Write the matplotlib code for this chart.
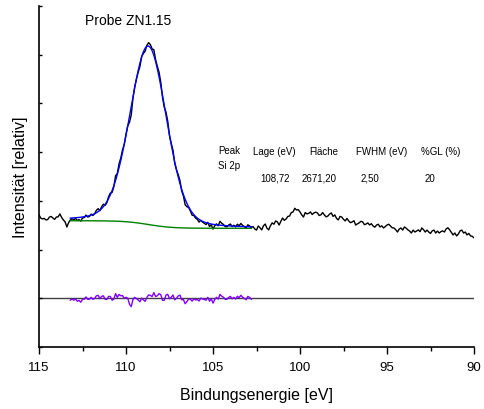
import numpy as np
import matplotlib
matplotlib.use("Agg")
import matplotlib.pyplot as plt
from matplotlib.ticker import MultipleLocator

plt.rcParams['font.family'] = ['Liberation Sans', 'DejaVu Sans']

# Measured Si 2p region: binding energy grid (eV) and counts, 0.1 eV steps
e_start, e_stop, e_step = 115.0, 90.0, 0.1
counts = [
    428, 412, 407, 410, 402, 404, 417, 420, 412, 405,
    417, 418, 433, 415, 402, 392, 366, 388, 402, 408,
    403, 410, 399, 404, 396, 412, 414, 427, 417, 420,
    432, 425, 434, 452, 460, 450, 470, 483, 477, 490,
    522, 540, 543, 572, 629, 640, 690, 720, 762, 790,
    842, 885, 903, 940, 1026, 1085, 1125, 1160, 1189, 1240,
    1257, 1268, 1298, 1312, 1302, 1280, 1276, 1225, 1191, 1160,
    1108, 1030, 980, 955, 908, 835, 795, 760, 692, 660,
    635, 605, 551, 525, 480, 470, 466, 448, 426, 425,
    411, 405, 391, 400, 391, 385, 378, 390, 368, 378,
    355, 372, 382, 372, 395, 385, 379, 368, 367, 376,
    381, 368, 375, 366, 380, 372, 384, 374, 368, 360,
    377, 372, 362, 368, 356, 350, 371, 362, 351, 372,
    381, 360, 351, 372, 387, 380, 397, 392, 376, 395,
    412, 400, 407, 420, 422, 440, 443, 462, 453, 455,
    443, 428, 417, 440, 433, 436, 443, 430, 438, 442,
    438, 425, 428, 440, 428, 418, 422, 432, 438, 420,
    428, 410, 402, 420, 417, 405, 397, 410, 397, 388,
    392, 398, 376, 382, 387, 395, 392, 378, 381, 387,
    376, 383, 371, 365, 376, 380, 366, 372, 361, 368,
    376, 380, 371, 362, 361, 352, 340, 355, 361, 350,
    366, 360, 351, 345, 335, 350, 340, 345, 351, 342,
    361, 352, 340, 350, 340, 333, 346, 350, 335, 345,
    335, 342, 346, 340, 356, 362, 351, 338, 325, 335,
    320, 330, 346, 350, 335, 340, 325, 333, 320, 318,
    310,
]

# Peak fit parameters
peak_name = "Si 2p"
peak_pos = 108.72      # eV
peak_area = 2671.20
peak_fwhm = 2.50       # eV
peak_gl = 20           # % Lorentzian

# Fit window and Shirley end levels
fit_hi, fit_lo = 113.2, 102.8
bg_high, bg_low = 398.0, 359.0

n_pts = int(round((e_start - e_stop) / e_step)) + 1
energy = np.linspace(e_start, e_stop, n_pts)
counts = np.asarray(counts, dtype=float)

# Gaussian-Lorentzian sum profile
m = peak_gl / 100.0
shape_area = peak_fwhm * ((1 - m) * np.sqrt(np.pi / (4 * np.log(2))) + m * np.pi / 2)
height = peak_area / shape_area


def gl(x):
    t = 4 * ((x - peak_pos) / peak_fwhm) ** 2
    return height * ((1 - m) * np.exp(-np.log(2) * t) + m / (1 + t))


mask = (energy <= fit_hi + 1e-9) & (energy >= fit_lo - 1e-9)
e_fit = energy[mask][::-1]          # ascending energy
d_fit = counts[mask][::-1]
p_fit = gl(e_fit)

# Shirley background: step proportional to integrated peak area
cum = np.concatenate([[0], np.cumsum(0.5 * (p_fit[1:] + p_fit[:-1]) * np.diff(e_fit))])
background = bg_low + (bg_high - bg_low) * cum / cum[-1]
envelope = background + p_fit
residual = d_fit - envelope

W, H = 484, 410
fig = plt.figure(figsize=(W / 100, H / 100), dpi=100)
ax = fig.add_axes([39 / W, 62 / H, 435 / W, 341 / H])

ax.axhline(0, color='#404040', lw=1.0, zorder=1)
ax.plot(energy, counts, color='black', lw=1.0, zorder=3)
ax.plot(e_fit, background, color='#008000', lw=1.0, zorder=4)
ax.plot(e_fit, envelope, color='#0000ff', lw=1.0, zorder=5)
ax.plot(e_fit, residual, color='#8000ff', lw=1.0, zorder=2)

ax.set_xlim(115, 90)
ax.set_ylim(-250, 1500)

for side in ('top', 'right'):
    ax.spines[side].set_visible(False)
for side in ('left', 'bottom'):
    ax.spines[side].set_linewidth(1.2)

ax.xaxis.set_major_locator(MultipleLocator(5))
ax.xaxis.set_minor_locator(MultipleLocator(2.5))
ax.yaxis.set_major_locator(MultipleLocator(250))
ax.tick_params(axis='x', which='major', direction='out', length=5, width=1, labelsize=9.5, pad=5)
ax.tick_params(axis='x', which='minor', direction='out', length=3, width=1)
ax.tick_params(axis='y', which='major', direction='in', length=2, width=1, labelleft=False)

ax.set_xlabel("Bindungsenergie [eV]", fontsize=11.5, labelpad=10)
ax.set_ylabel("Intensität [relativ]", fontsize=11.5, labelpad=8)


def ftext(x, y, s, size=7, **kw):
    fig.text(x / W, 1 - y / H, s, fontsize=size, ha='left', va='center', **kw)


ftext(85, 21, "Probe ZN1.15", size=10)
ftext(218, 151, "Peak")
ftext(218, 166, peak_name)
ftext(253, 152, "Lage (eV)")
ftext(309, 152, "Fläche")
ftext(356, 152, "FWHM (eV)")
ftext(421, 152, "%GL (%)")
ftext(260, 179, f"{peak_pos:.2f}".replace('.', ','))
ftext(302, 179, f"{peak_area:.2f}".replace('.', ','))
ftext(361, 179, f"{peak_fwhm:.2f}".replace('.', ','))
ftext(425, 179, f"{peak_gl}")

fig.savefig("out.png", dpi=100)
